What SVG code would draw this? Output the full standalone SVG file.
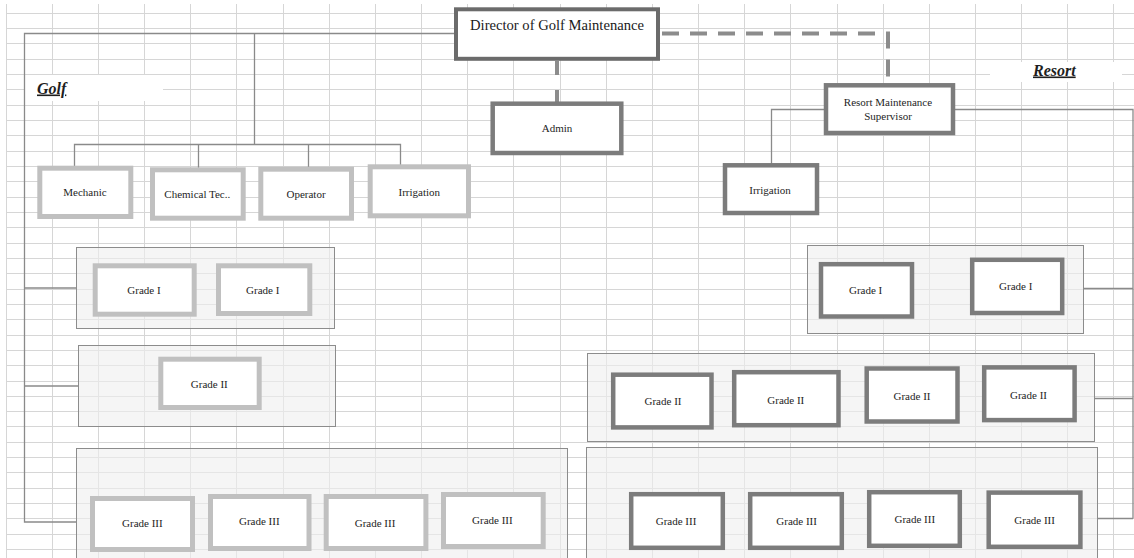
<svg xmlns="http://www.w3.org/2000/svg" width="1134" height="558" viewBox="0 0 1134 558">
  <style>
    .grid { stroke: #d6d6d6; stroke-width: 1; fill: none; }
    .pane { fill: #eeeeee; fill-opacity: 0.6; stroke: #8c8c8c; stroke-width: 1; }
    .light { fill: #ffffff; stroke: #c0c0c0; stroke-width: 5; }
    .dark { fill: #ffffff; stroke: #7c7c7c; stroke-width: 4.5; }
    .head { fill: #ffffff; stroke: #6b6b6b; stroke-width: 4; }
    .link { fill: none; stroke: #8a8a8a; stroke-width: 1.3; }
    .dash { fill: none; stroke: #8c8c8c; stroke-width: 4; stroke-dasharray: 17 11; }
    .lbl { font-family: "Liberation Serif", "DejaVu Serif", serif; font-size: 11px; fill: #1e1e1e; text-anchor: middle; }
    .title { font-family: "Liberation Serif", "DejaVu Serif", serif; font-size: 14.6px; fill: #1a1a1a; text-anchor: middle; }
    .sect { font-family: "Liberation Serif", "DejaVu Serif", serif; font-size: 16px; font-weight: bold; font-style: italic; text-decoration: underline; fill: #1e1e1e; }
  </style>

  <rect width="1134" height="558" fill="#ffffff"/>

  <!-- worksheet grid -->
  <path class="grid" d="M6 13.5H1134M6 28.5H1134M6 43.5H1134M6 59.5H1134M6 74.5H1134M6 89.5H1134M6 105.5H1134M6 120.5H1134M6 135.5H1134M6 151.5H1134M6 166.5H1134M6 181.5H1134M6 197.5H1134M6 212.5H1134M6 227.5H1134M6 243.5H1134M6 258.5H1134M6 273.5H1134M6 289.5H1134M6 304.5H1134M6 319.5H1134M6 335.5H1134M6 350.5H1134M6 365.5H1134M6 381.5H1134M6 396.5H1134M6 411.5H1134M6 426.5H1134M6 442.5H1134M6 457.5H1134M6 472.5H1134M6 488.5H1134M6 503.5H1134M6 518.5H1134M6 534.5H1134M6 549.5H1134"/>
  <path class="grid" d="M6.5 4V558M52.5 4V558M98.5 4V558M144.5 4V558M190.5 4V558M236.5 4V558M283.5 4V558M329.5 4V558M375.5 4V558M421.5 4V558M467.5 4V558M513.5 4V558M560.5 4V558M606.5 4V558M652.5 4V558M698.5 4V558M744.5 4V558M790.5 4V558M837.5 4V558M883.5 4V558M929.5 4V558M975.5 4V558M1021.5 4V558M1067.5 4V558M1113.5 4V558"/>

  <!-- text box backings for the section titles -->
  <rect x="25" y="75" width="138" height="26" fill="#ffffff"/>
  <rect x="990" y="62" width="132" height="20" fill="#ffffff"/>

  <!-- grade panes -->
  <g id="golf-grade1-pane"><rect class="pane" x="76.5" y="247.5" width="258" height="81"/></g>
  <g id="golf-grade2-pane"><rect class="pane" x="78.5" y="345.5" width="257" height="81"/></g>
  <g id="golf-grade3-pane"><rect class="pane" x="76.5" y="448.5" width="491" height="120"/></g>
  <g id="resort-grade1-pane"><rect class="pane" x="807.5" y="245.5" width="276" height="88"/></g>
  <g id="resort-grade2-pane"><rect class="pane" x="587.5" y="353.5" width="507" height="88"/></g>
  <g id="resort-grade3-pane"><rect class="pane" x="586.5" y="447.5" width="511" height="120"/></g>

  <!-- connectors -->
  <g id="connectors">
    <path class="link" d="M454 33.5H24.5V522H77"/>
    <path class="link" d="M24.5 288H77M24.5 386H78.5"/>
    <path class="link" d="M254.5 33.5V144.5M74.5 166V144.5H400.5V165M198.5 144.5V168M308.5 144.5V167"/>
    <path class="link" d="M824 109.5H771.5V164M955 109.5H1133V518.5M1083.5 288.5H1133M1094.5 398.5H1133M1097.5 518.5H1133"/>
    <path class="dash" d="M662 33.5H888V83"/>
    <path class="dash" d="M557 61V102" style="stroke-dasharray: 14 15"/>
  </g>

  <!-- top level -->
  <g id="director">
    <rect class="head" x="456" y="9.3" width="202" height="49.5"/>
    <text class="title" x="557" y="30">Director of Golf Maintenance</text>
  </g>
  <g id="admin">
    <rect class="dark" x="492.7" y="103.7" width="128.6" height="49.3"/>
    <text class="lbl" x="557" y="131.5">Admin</text>
  </g>
  <g id="resort-supervisor">
    <rect class="dark" x="826" y="85.3" width="127" height="47.7"/>
    <text class="lbl" x="888" y="105.5">Resort Maintenance</text>
    <text class="lbl" x="888" y="119.5">Supervisor</text>
  </g>
  <g id="resort-irrigation">
    <rect class="dark" x="725" y="165.3" width="92" height="47.7"/>
    <text class="lbl" x="770" y="193.5">Irrigation</text>
  </g>

  <!-- golf side -->
  <g id="golf-mechanic">
    <rect class="light" x="39.8" y="168.2" width="91" height="48.3"/>
    <text class="lbl" x="85" y="196">Mechanic</text>
  </g>
  <g id="golf-chemical">
    <rect class="light" x="152.5" y="169.8" width="90.7" height="48.4"/>
    <text class="lbl" x="197.3" y="198">Chemical Tec..</text>
  </g>
  <g id="golf-operator">
    <rect class="light" x="260.8" y="169.2" width="90.7" height="49"/>
    <text class="lbl" x="306" y="197.8">Operator</text>
  </g>
  <g id="golf-irrigation">
    <rect class="light" x="370.2" y="166.8" width="98.3" height="49"/>
    <text class="lbl" x="419.3" y="196">Irrigation</text>
  </g>
  <g id="golf-grade1-a">
    <rect class="light" x="95.2" y="265.8" width="99" height="48.4"/>
    <text class="lbl" x="144" y="294.4">Grade I</text>
  </g>
  <g id="golf-grade1-b">
    <rect class="light" x="218.5" y="265.8" width="91.3" height="47.7"/>
    <text class="lbl" x="262.7" y="294.4">Grade I</text>
  </g>
  <g id="golf-grade2">
    <rect class="light" x="160.8" y="359.2" width="98.4" height="48.3"/>
    <text class="lbl" x="209.3" y="387.7">Grade II</text>
  </g>
  <g id="golf-grade3-a">
    <rect class="light" x="92.5" y="498.5" width="100" height="51"/>
    <text class="lbl" x="142.4" y="527.3">Grade III</text>
  </g>
  <g id="golf-grade3-b">
    <rect class="light" x="210.5" y="496.5" width="98.5" height="52"/>
    <text class="lbl" x="259.3" y="525.4">Grade III</text>
  </g>
  <g id="golf-grade3-c">
    <rect class="light" x="326.2" y="496.5" width="99.7" height="52"/>
    <text class="lbl" x="375" y="526.7">Grade III</text>
  </g>
  <g id="golf-grade3-d">
    <rect class="light" x="443.5" y="494.5" width="99.7" height="52"/>
    <text class="lbl" x="492.4" y="524.3">Grade III</text>
  </g>

  <!-- resort side -->
  <g id="resort-grade1-a">
    <rect class="dark" x="821" y="264.2" width="91" height="52.3"/>
    <text class="lbl" x="865.6" y="293.7">Grade I</text>
  </g>
  <g id="resort-grade1-b">
    <rect class="dark" x="972.2" y="259.8" width="90" height="53.2"/>
    <text class="lbl" x="1015.7" y="289.5">Grade I</text>
  </g>
  <g id="resort-grade2-a">
    <rect class="dark" x="613.2" y="374.7" width="98.3" height="52.7"/>
    <text class="lbl" x="663" y="404.7">Grade II</text>
  </g>
  <g id="resort-grade2-b">
    <rect class="dark" x="734.2" y="372.2" width="104.3" height="53"/>
    <text class="lbl" x="785.8" y="403.7">Grade II</text>
  </g>
  <g id="resort-grade2-c">
    <rect class="dark" x="866.7" y="368.5" width="90.8" height="53"/>
    <text class="lbl" x="912" y="400">Grade II</text>
  </g>
  <g id="resort-grade2-d">
    <rect class="dark" x="984.2" y="367.4" width="90.4" height="52.7"/>
    <text class="lbl" x="1028.5" y="398.5">Grade II</text>
  </g>
  <g id="resort-grade3-a">
    <rect class="dark" x="631.2" y="494.2" width="91.6" height="53.6"/>
    <text class="lbl" x="676" y="524.7">Grade III</text>
  </g>
  <g id="resort-grade3-b">
    <rect class="dark" x="750.2" y="494.2" width="91.6" height="53.6"/>
    <text class="lbl" x="796.6" y="524.7">Grade III</text>
  </g>
  <g id="resort-grade3-c">
    <rect class="dark" x="869.2" y="492.2" width="90.6" height="53.6"/>
    <text class="lbl" x="914.8" y="522.9">Grade III</text>
  </g>
  <g id="resort-grade3-d">
    <rect class="dark" x="988.7" y="492.6" width="91.7" height="54.2"/>
    <text class="lbl" x="1034.6" y="523.7">Grade III</text>
  </g>

  <!-- section titles -->
  <g id="golf-title"><text class="sect" x="37" y="93.5">Golf</text></g>
  <g id="resort-title"><text class="sect" x="1033" y="75.5">Resort</text></g>
</svg>
